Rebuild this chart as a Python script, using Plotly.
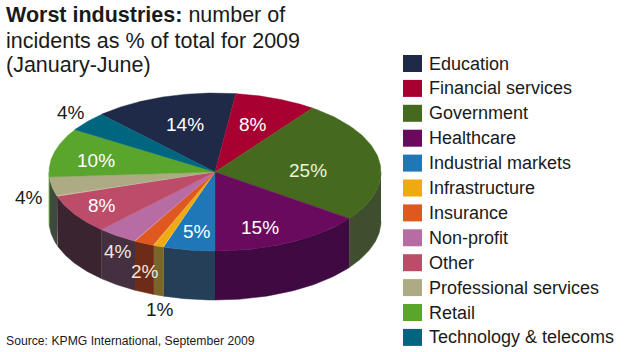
import numpy as np
import plotly.graph_objects as go

categories = ["Education", "Financial services", "Government", "Healthcare",
              "Industrial markets", "Infrastructure", "Insurance", "Non-profit",
              "Other", "Professional services", "Retail", "Technology & telecoms"]
values = [14, 8, 25, 15, 5, 1, 2, 4, 8, 4, 10, 4]
top_colors = ["#1f2a48", "#a80030", "#456a1e", "#6a0a5e", "#1f77b8", "#efaa10",
              "#df5820", "#b76ca4", "#bc4c68", "#adab84", "#5aa52c", "#00657e"]
wall_colors = ["#1f2a48", "#a80030", "#3f4e2c", "#3f0a42", "#263f58", "#7a662a",
               "#6e2c18", "#45303f", "#3a2430", "#3e4a3c", "#5aa52c", "#00657e"]
label_xy = [(185, 124), (253, 124), (308, 170), (260, 227), (197, 231), (160, 309),
            (145, 271), (118, 251), (102, 205), (29, 197), (96, 160), (71, 112)]
label_color = ["white", "white", "#eef2dc", "white", "white", "#1a1a1a",
               "#f4e6dc", "#eee4ea", "white", "#1a1a1a", "white", "#1a1a1a"]

CX, CY, RX, RY, DEPTH = 215, 172, 166, 79, 49
START = -43.2


def pt(t, dy=0):
    t = np.radians(t)
    return CX + RX * np.sin(t), CY - RY * np.cos(t) + dy


fig = go.Figure()
edges = START + np.cumsum([0] + values) * 3.6

# side walls first (only the front half of the rim is visible)
for i, name in enumerate(categories):
    for shift in (0, 360):
        a = max(edges[i] + shift, 90)
        b = min(edges[i + 1] + shift, 270)
        if b <= a:
            continue
        t = np.linspace(a, b, 40)
        x1, y1 = pt(t)
        x2, y2 = pt(t[::-1], DEPTH)
        fig.add_trace(go.Scatter(
            x=np.r_[x1, x2], y=np.r_[y1, y2], mode="lines", fill="toself",
            fillcolor=wall_colors[i], line=dict(color=wall_colors[i], width=0.5),
            hoverinfo="skip", showlegend=False))

# top face
for i, name in enumerate(categories):
    t = np.linspace(edges[i], edges[i + 1], 60)
    x, y = pt(t)
    fig.add_trace(go.Scatter(
        x=np.r_[CX, x, CX], y=np.r_[CY, y, CY], mode="lines", fill="toself",
        fillcolor=top_colors[i], line=dict(color=top_colors[i], width=0.4),
        name=name, text=f"{name}: {values[i]}%", hoverinfo="text", showlegend=False))

ann = []
for v, (x, y), c in zip(values, label_xy, label_color):
    ann.append(dict(x=x, y=y, text=f"{v}%", showarrow=False, xanchor="center", yanchor="middle",
                    font=dict(size=19, color=c, family="Liberation Sans")))

title_lines = ["<b>Worst industries:</b> number of", "incidents as % of total for 2009", "(January-June)"]
for line, y in zip(title_lines, [15, 41, 65]):
    ann.append(dict(x=4, y=y, text=line, showarrow=False, xanchor="left", yanchor="middle",
                    font=dict(size=21.5, color="#1a1a1a", family="Liberation Sans")))

ann.append(dict(x=4, y=341, text="Source: KPMG International, September 2009", showarrow=False,
                xanchor="left", yanchor="middle",
                font=dict(size=12.2, color="#1a1a1a", family="Liberation Sans")))

shapes = []
for i, name in enumerate(categories):
    yc = 63.5 + i * 24.9
    shapes.append(dict(type="rect", x0=403, x1=422, y0=yc - 8.5, y1=yc + 8.5,
                       fillcolor=top_colors[i], line=dict(width=0), layer="above"))
    ann.append(dict(x=427, y=yc, text=name, showarrow=False, xanchor="left", yanchor="middle",
                    font=dict(size=18, color="#1a1a1a", family="Liberation Sans")))

fig.update_layout(
    width=624, height=352, margin=dict(l=0, r=0, t=0, b=0),
    paper_bgcolor="white", plot_bgcolor="white",
    xaxis=dict(range=[0, 624], visible=False, fixedrange=True),
    yaxis=dict(range=[352, 0], visible=False, fixedrange=True),
    annotations=ann, shapes=shapes, showlegend=False,
)
fig.write_html("out.html", config={"displayModeBar": False},
               post_script="document.body.style.margin='0';document.documentElement.style.overflow='hidden';")
